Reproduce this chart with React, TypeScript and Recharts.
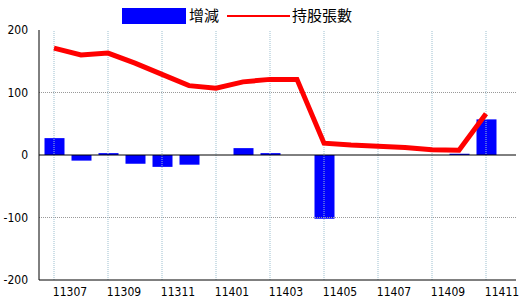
import {
  Bar, ComposedChart, Line, ReferenceLine, XAxis, YAxis
} from 'recharts'

const months = [
  '11307', '11308', '11309', '11310', '11311', '11312',
  '11401', '11402', '11403', '11404', '11405', '11406',
  '11407', '11408', '11409', '11410', '11411'
]
const change = [27, -9, 3, -14, -19, -15.5, 0, 11, 3, 0, -102, 0, 0, 0, 0, 2, 57]
const holders = [171, 160, 163, 147, 129, 111, 107, 117, 121, 121, 19, 16, 14, 12, 8.5, 7.5, 66]
const xTicks = ['11307', '11309', '11311', '11401', '11403', '11405', '11407', '11409', '11411']
const yTicks = [200, 100, 0, -100, -200]
const yGrid = [100, -100]

const labelFont = '"Liberation Sans Narrow", "DejaVu Sans Condensed", "Liberation Sans", sans-serif'
const cjkFont = '"Noto Sans CJK TC", "Noto Sans CJK SC", sans-serif'

const data = months.map((m, i) => ({ m, change: change[i], holders: holders[i] }))

function MonthTick({ x, y, payload }: any) {
  return (
    <text x={x + 16} y={y + 8} textAnchor="middle" fontSize={12} fill="#000" fontFamily={labelFont}>
      {payload.value}
    </text>
  )
}

function ValueTick({ x, y, payload }: any) {
  return (
    <text x={x - 3} y={y + 4} textAnchor="end" fontSize={12} fill="#000" fontFamily={labelFont}>
      {payload.value}
    </text>
  )
}

function TopLegend() {
  return (
    <div style={{ position: 'absolute', left: 0, top: 0, width: 520, height: 30, fontFamily: cjkFont, fontSize: 15, color: '#000' }}>
      <div style={{ position: 'absolute', left: 122, top: 8, width: 64, height: 16, background: '#0000ff' }} />
      <div style={{ position: 'absolute', left: 189, top: 4, lineHeight: '22px' }}>增減</div>
      <div style={{ position: 'absolute', left: 227, top: 15, width: 63, height: 2, background: '#ff0000' }} />
      <div style={{ position: 'absolute', left: 292, top: 4, lineHeight: '22px' }}>持股張數</div>
    </div>
  )
}

export default function App() {
  return (
    <div style={{ position: 'relative', width: 520, height: 300, background: '#fff' }}>
      <style>{'body{margin:0}'}</style>
      <ComposedChart width={520} height={300} data={data} margin={{ top: 30, right: 4, left: 0, bottom: 0 }}>
        <XAxis
          dataKey="m"
          ticks={xTicks}
          interval={0}
          tick={<MonthTick />}
          tickLine={false}
          axisLine={{ stroke: '#000' }}
          padding={{ left: 1.5, right: 16.5 }}
          height={20}
        />
        <XAxis xAxisId="top" dataKey="m" orientation="top" tick={false} tickLine={false}
          axisLine={{ stroke: '#000' }} height={0} padding={{ left: 1.5, right: 16.5 }} />
        <YAxis
          domain={[-200, 200]}
          ticks={yTicks}
          interval={0}
          tick={<ValueTick />}
          tickLine={false}
          axisLine={{ stroke: '#000' }}
          width={39}
        />
        <YAxis yAxisId="right" orientation="right" domain={[-200, 200]} tick={false} tickLine={false}
          axisLine={{ stroke: '#000', strokeWidth: 2 }} width={0} />
        {yGrid.map(v => (
          <ReferenceLine key={v} y={v} stroke="#999" strokeDasharray="1 1" />
        ))}
        {xTicks.map(m => (
          <ReferenceLine key={m} x={m} stroke="#9cbfcf" strokeDasharray="1 1" />
        ))}
        <Bar dataKey="change" fill="#0000ff" barSize={20} isAnimationActive={false} />
        <ReferenceLine y={0} stroke="#000" />
        <Line
          dataKey="holders"
          type="linear"
          stroke="#ff0000"
          strokeWidth={5}
          dot={false}
          isAnimationActive={false}
        />
      </ComposedChart>
      <TopLegend />
    </div>
  )
}
